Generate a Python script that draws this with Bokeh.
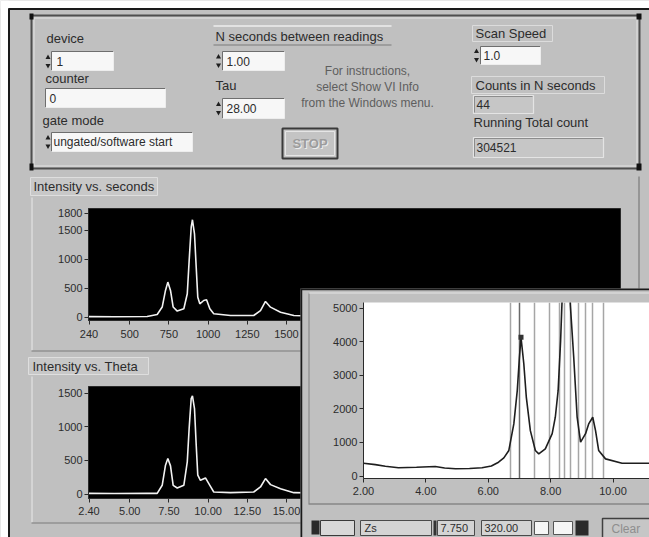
from bokeh.plotting import figure
from bokeh.layouts import column
from bokeh.models import Range1d, FixedTicker, PrintfTickFormatter
from bokeh.core.properties import value
from bokeh.embed import file_html
from bokeh.resources import INLINE

# ---------------- data ----------------
device_value = "1"
counter_value = "0"
gate_mode_value = "ungated/software start"
n_seconds_value = "1.00"
tau_value = "28.00"
scan_speed_value = "1.0"
counts_value = "44"
running_total_value = "304521"
instruction_lines = ["For instructions,", "select Show VI Info", "from the Windows menu."]

# Intensity vs. seconds
seconds = [240, 400, 611, 675, 707, 728, 743, 760, 777, 803, 845, 867, 879, 892, 900, 913, 924, 934,
           947, 972, 990, 1011, 1036, 1143, 1291, 1334, 1366, 1398, 1462, 1547, 1650, 1800]
intensity_seconds = [15, 12, 17, 52, 180, 466, 610, 466, 180, 110, 150, 410, 980, 1557, 1685, 1443, 867, 350,
                     236, 293, 305, 150, 64, 34, 34, 120, 276, 178, 91, 34, 25, 20]

# Intensity vs. Theta
theta = [2.40, 4.00, 6.11, 6.75, 7.07, 7.28, 7.43, 7.60, 7.77, 8.03, 8.45, 8.67, 8.79, 8.92, 9.00, 9.13,
         9.24, 9.34, 9.51, 9.83, 10.11, 10.36, 11.43, 12.91, 13.34, 13.66, 13.98, 14.62, 15.47, 17.00]
intensity_theta = [10, 8, 10, 10, 130, 430, 530, 420, 130, 90, 130, 480, 980, 1425, 1465, 1275,
                   730, 280, 205, 240, 130, 30, 20, 30, 105, 230, 140, 80, 20, 15]

# zoomed scan (inset window)
theta_zoom = [2.00, 2.38, 2.70, 3.12, 3.70, 4.30, 4.60, 4.95, 5.40, 5.80, 6.10, 6.33, 6.50, 6.66, 6.82,
              6.93, 7.00, 7.05, 7.14, 7.22, 7.35, 7.51, 7.62, 7.83, 8.05, 8.15, 8.24, 8.32, 8.37, 8.45,
              8.52, 8.58, 8.63, 8.74, 8.85, 8.96, 9.12, 9.22, 9.35, 9.44, 9.54, 9.76, 10.29, 11.15, 12.80]
counts_zoom = [380, 340, 290, 244, 260, 283, 240, 214, 222, 244, 300, 410, 540, 760, 1550,
               2540, 3540, 4130, 3340, 2350, 1350, 760, 660, 810, 1260, 1750, 2540, 4030, 5300, 7500,
               8000, 7000, 5120, 3540, 1750, 1010, 1260, 1550, 1750, 1350, 760, 510, 380, 380, 370]
cursor_theta = [6.71, 7.48, 7.96, 8.28, 8.44, 8.63, 8.89, 9.12, 9.34, 9.69]
active_cursor_theta = [7.00]
peak_theta = [7.05]
peak_counts = [4130]

seconds_xticks = [240, 500, 750, 1000, 1250, 1500, 1750, 2000, 2250, 2500, 2750, 3000, 3250, 3500]
seconds_yticks = [0, 500, 1000, 1500, 1800]
theta_xticks = [2.40, 5.00, 7.50, 10.00, 12.50, 15.00, 17.50, 20.00, 22.50, 25.00, 27.50, 30.00, 32.50, 35.00]
theta_yticks = [0, 500, 1000, 1500]
zoom_xticks = [2.0, 4.0, 6.0, 8.0, 10.0]
zoom_yticks = [0, 1000, 2000, 3000, 4000, 5000]

cursor_name = "Zs"
cursor_x_value = "7.750"
cursor_y_value = "320.00"
cursor_button = "Clear"

# ---------------- style ----------------
FONT = "Liberation Sans"
GREY = "#c0c0c0"
INK = "#2c2c2c"
SVG = dict(output_backend="svg", toolbar_location=None)


def pos(left, top):
    return {"position": "absolute", "left": f"{left}px", "top": f"{top}px"}


def canvas(x0, y0, w, h):
    p = figure(width=w, height=h, x_range=Range1d(x0, x0 + w), y_range=Range1d(y0 + h, y0),
               x_axis_type=None, y_axis_type=None, min_border=0, styles=pos(x0, y0), **SVG)
    p.frame_align = False
    p.outline_line_color = None
    p.background_fill_color = GREY
    p.border_fill_color = GREY
    return p


def label(p, x, y, s, size=13, color=INK, align="left", style="normal"):
    p.text(x=[x], y=[y], text=[s], text_font=value(FONT), text_font_size=f"{size}px",
           text_color=color, text_align=align, text_baseline="middle", text_font_style=style)


def sunken(p, x0, y0, x1, y1, fill="#f7f7f7"):
    p.quad(left=x0, right=x1, top=y0, bottom=y1, fill_color=fill, line_color=None)
    p.segment(x0=[x0, x0], y0=[y0, y0], x1=[x1, x0], y1=[y0, y1], line_color="#6e6e6e", line_width=1)
    p.segment(x0=[x0, x1], y0=[y1, y0], x1=[x1, x1], y1=[y1, y1], line_color="#ededed", line_width=1)


def indicator(p, x0, y0, x1, y1):
    p.quad(left=x0, right=x1, top=y0, bottom=y1, fill_color="#c6c6c6", line_color="#e4e4e4", line_width=1.2)
    p.segment(x0=[x0 + 1, x0 + 1], y0=[y0 + 1, y0 + 1], x1=[x1 - 1, x0 + 1], y1=[y0 + 1, y1 - 1],
              line_color="#8c8c8c", line_width=1)


def spin(p, x, yc):
    p.scatter(x=[x], y=[yc - 4], marker="triangle", size=5, fill_color="#1e1e1e", line_color=None)
    p.scatter(x=[x], y=[yc + 4], marker="inverted_triangle", size=5, fill_color="#1e1e1e", line_color=None)


def graph(x_range, y_range, left, top, frame_w, frame_h, bl, bt, bb, br, bgc, xstand=2):
    p = figure(width=bl + frame_w + br, height=bt + frame_h + bb, x_range=x_range, y_range=y_range,
               min_border_left=bl, min_border_top=bt, min_border_bottom=bb, min_border_right=br,
               styles=pos(left - bl, top - bt), **SVG)
    p.frame_align = False
    p.background_fill_color = bgc
    p.border_fill_color = None
    p.outline_line_color = "#2a2a2a"
    p.xgrid.visible = False
    p.ygrid.visible = False
    for ax in (p.xaxis[0], p.yaxis[0]):
        ax.major_label_text_font = FONT
        ax.major_label_text_font_size = "11px"
        ax.major_label_text_color = INK
        ax.axis_line_color = "#2a2a2a"
        ax.major_tick_line_color = "#2a2a2a"
        ax.major_tick_out = 4
        ax.major_tick_in = 0
        ax.minor_tick_line_color = None
        ax.major_label_standoff = 2
    p.xaxis[0].major_label_standoff = xstand
    return p


# ---------------- front panel background ----------------
bg = canvas(0, 0, 649, 537)
bg.quad(left=[0, 0], right=[8, 649], top=[0, 0], bottom=[537, 8], fill_color="#ffffff", line_color=None)
bg.segment(x0=[8, 8.5], y0=[8.5, 8], x1=[649, 8.5], y1=[8.5, 537], line_color="#1a1a1a", line_width=2)

# top control cluster frame
bg.quad(left=31, right=639, top=15, bottom=168, fill_color=None, line_color="#4e4e4e", line_width=2)
bg.quad(left=33.5, right=636.5, top=17.5, bottom=165.5, fill_color=None, line_color="#e2e2e2", line_width=1)
bg.quad(left=[29, 636, 29, 636], right=[33, 641, 33, 641], top=[13, 13, 163, 163], bottom=[19, 19, 170, 170],
        fill_color="#111111", line_color=None)

# left column controls
label(bg, 46, 38, "device")
spin(bg, 47.5, 61)
sunken(bg, 51, 51, 113, 70)
label(bg, 56, 61, device_value, size=12)

label(bg, 45, 78, "counter")
sunken(bg, 45, 88, 165, 107)
label(bg, 49, 98, counter_value, size=12)

label(bg, 42, 120, "gate mode")
spin(bg, 47.5, 141.5)
sunken(bg, 51, 132, 192, 151)
label(bg, 53, 141.5, gate_mode_value, size=12)

# middle column controls
bg.segment(x0=[213], y0=[25.5], x1=[391], y1=[25.5], line_color="#eeeeee", line_width=1.5)
bg.segment(x0=[213], y0=[44.5], x1=[391], y1=[44.5], line_color="#7a7a7a", line_width=1)
label(bg, 215, 36, "N seconds between readings")
spin(bg, 218, 60.5)
sunken(bg, 222, 51, 284, 70)
label(bg, 226, 61, n_seconds_value, size=12)

label(bg, 215, 85, "Tau")
spin(bg, 218, 108)
sunken(bg, 222, 98, 284, 118)
label(bg, 226, 108, tau_value, size=12)

for i, line in enumerate(instruction_lines):
    label(bg, 367, 70 + 16 * i, line, size=12, color="#5e5e5e", align="center")

bg.quad(left=282, right=337, top=128, bottom=158, fill_color="#c4c4c4", line_color="#3a3a3a", line_width=2)
bg.quad(left=285, right=334, top=131, bottom=155, fill_color=None, line_color="#e6e6e6", line_width=1)
label(bg, 310.5, 144, "STOP", size=13, color="#ececec", align="center", style="bold")
label(bg, 309.5, 143, "STOP", size=13, color="#9c9c9c", align="center", style="bold")

# right column controls
bg.quad(left=472, right=552, top=25, bottom=41, fill_color=None, line_color="#dcdcdc", line_width=1)
label(bg, 475, 33, "Scan Speed")
spin(bg, 476, 55)
sunken(bg, 480, 46, 540, 64)
label(bg, 483, 55, scan_speed_value, size=12)

bg.quad(left=471, right=604, top=76, bottom=93, fill_color=None, line_color="#dcdcdc", line_width=1)
label(bg, 475, 85, "Counts in N seconds")
indicator(bg, 473, 95, 533, 113)
label(bg, 476, 104, counts_value, size=12)

label(bg, 473, 122, "Running Total count")
indicator(bg, 473, 137, 603, 157)
label(bg, 476, 147, running_total_value, size=12)

# graph bezels
bg.quad(left=30, right=157, top=177, bottom=195, fill_color="#c8c8c8", line_color="#dedede", line_width=1)
label(bg, 33, 186, "Intensity vs. seconds")
bg.segment(x0=[31.5, 31, 638.5], y0=[197, 350.5, 176], x1=[31.5, 640, 638.5], y1=[350, 350.5, 350],
           line_color=["#e2e2e2", "#7a7a7a", "#7a7a7a"], line_width=1.2)

bg.quad(left=28, right=148, top=357, bottom=374, fill_color="#c8c8c8", line_color="#dedede", line_width=1)
label(bg, 32, 366, "Intensity vs. Theta")
bg.segment(x0=[31.5, 31], y0=[376, 522.5], x1=[31.5, 640], y1=[522, 522.5],
           line_color=["#e2e2e2", "#7a7a7a"], line_width=1.2)

# ---------------- graphs ----------------
p1 = graph(Range1d(236.8, 3631), Range1d(-52, 1879), 88, 208, 532, 112, 58, 8, 28, 6, "#000000", xstand=5)
p1.line(seconds, intensity_seconds, line_color="#f2f2f2", line_width=1.6)
p1.xaxis.ticker = FixedTicker(ticks=seconds_xticks)
p1.yaxis.ticker = FixedTicker(ticks=seconds_yticks)

p2 = graph(Range1d(2.368, 36.31), Range1d(-67, 1604), 88, 386, 532, 112, 58, 8, 28, 6, "#000000", xstand=4)
p2.line(theta, intensity_theta, line_color="#f2f2f2", line_width=1.6)
p2.xaxis.ticker = FixedTicker(ticks=theta_xticks)
p2.xaxis.formatter = PrintfTickFormatter(format="%.2f")
p2.yaxis.ticker = FixedTicker(ticks=theta_yticks)

# ---------------- inset window ----------------
ibg = canvas(300, 288, 349, 249)
ibg.segment(x0=[300, 300.5], y0=[288.5, 288], x1=[649, 300.5], y1=[288.5, 537], line_color="#1a1a1a", line_width=2.5)
ibg.segment(x0=[308.5, 308, 308], y0=[292, 503.5, 292.5], x1=[308.5, 649, 649], y1=[503, 503.5, 292.5],
            line_color=["#8a8a8a", "#6a6a6a", "#e4e4e4"], line_width=1.2)
# cursor palette row
ibg.quad(left=311, right=319, top=520, bottom=534, fill_color="#2a2a2a", line_color=None)
ibg.quad(left=320, right=354, top=520, bottom=535, fill_color="#d8d8d8", line_color="#3a3a3a", line_width=1)
ibg.quad(left=360, right=431, top=520, bottom=535, fill_color="#d4d4d4", line_color="#4a4a4a", line_width=1)
label(ibg, 364, 527.5, cursor_name, size=11)
ibg.quad(left=433, right=436, top=520, bottom=535, fill_color="#333333", line_color=None)
ibg.quad(left=437, right=474, top=520, bottom=535, fill_color="#d4d4d4", line_color="#4a4a4a", line_width=1)
label(ibg, 440, 527.5, cursor_x_value, size=11)
ibg.quad(left=481, right=531, top=520, bottom=535, fill_color="#d4d4d4", line_color="#4a4a4a", line_width=1)
label(ibg, 484, 527.5, cursor_y_value, size=11)
ibg.quad(left=[534, 553], right=[548, 572], top=[521, 521], bottom=[534, 534], fill_color="#f6f6f6",
         line_color="#555555", line_width=1)
ibg.quad(left=575, right=588, top=520, bottom=535, fill_color="#2a2a2a", line_color=None)
ibg.quad(left=602, right=670, top=518, bottom=545, fill_color="#c6c6c6", line_color="#404040", line_width=1.5)
label(ibg, 611, 528, cursor_button, size=12, color="#8e8e8e")

ip = graph(Range1d(2.0, 11.17), Range1d(-74, 5164), 363, 302, 286, 176, 63, 14, 32, 0, "#ffffff", xstand=4)
ip.outline_line_color = None
ip.vspan(x=cursor_theta, line_color="#a6a6a6", line_width=1.5)
ip.vspan(x=active_cursor_theta, line_color="#6a6a6a", line_width=1.5)
ip.line(theta_zoom, counts_zoom, line_color="#1e1e1e", line_width=1.6)
ip.scatter(peak_theta, peak_counts, marker="square", size=5, fill_color="#333333", line_color=None)
ip.xaxis.ticker = FixedTicker(ticks=zoom_xticks)
ip.xaxis.formatter = PrintfTickFormatter(format="%.2f")
ip.yaxis.ticker = FixedTicker(ticks=zoom_yticks)

root = column(bg, p1, p2, ibg, ip, width=649, height=537)

open("out.html", "w").write(file_html(root, INLINE))
